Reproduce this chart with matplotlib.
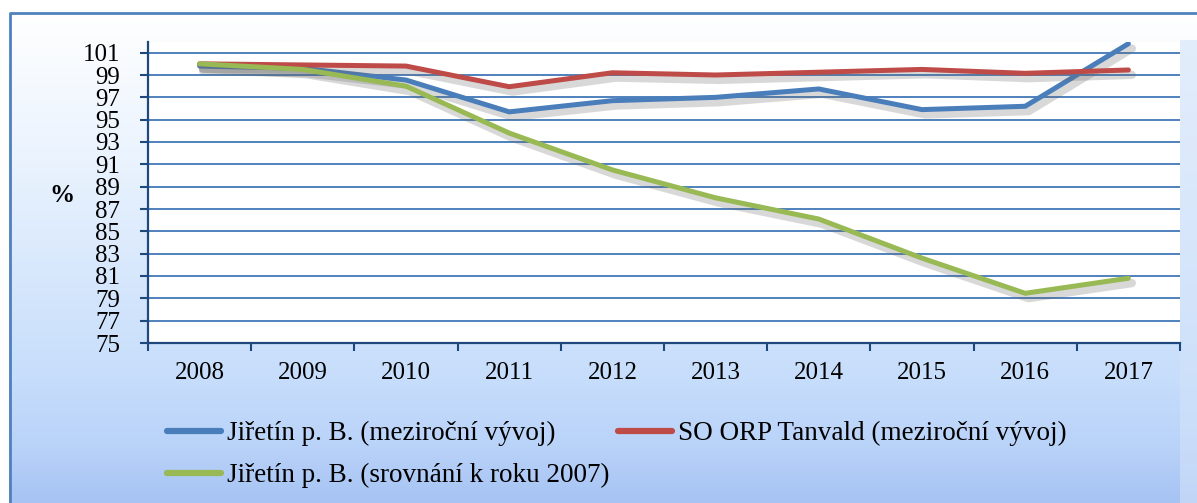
import numpy as np
import matplotlib
matplotlib.use("Agg")
import matplotlib.pyplot as plt
import matplotlib.patheffects as pe
from matplotlib.colors import LinearSegmentedColormap
from matplotlib.patches import Rectangle

years = ["2008", "2009", "2010", "2011", "2012", "2013", "2014", "2015", "2016", "2017"]
jiretin_yoy = [99.8, 99.6, 98.55, 95.7, 96.7, 97.0, 97.75, 95.9, 96.2, 101.8]
orp_tanvald_yoy = [100.0, 99.9, 99.8, 97.95, 99.2, 99.0, 99.25, 99.5, 99.15, 99.45]
jiretin_vs_2007 = [100.0, 99.5, 98.0, 93.8, 90.5, 88.0, 86.1, 82.6, 79.45, 80.8]

labels = ["Jiřetín p. B. (meziroční vývoj)",
          "SO ORP Tanvald (meziroční vývoj)",
          "Jiřetín p. B. (srovnání k roku 2007)"]
colors = ["#4A7EBB", "#BE4B48", "#98B954"]
yticks = list(range(75, 102, 2))

W, H = 1197, 503
fig = plt.figure(figsize=(W / 100, H / 100), dpi=100)

# background gradient
bg = fig.add_axes([0, 0, 1, 1], zorder=-10)
bg.set_axis_off()
bg.set_xlim(0, W)
bg.set_ylim(H, 0)
cmap = LinearSegmentedColormap.from_list(
    "bg", [(0, "#FFFFFF"), (0.3, "#EAF3FE"), (0.75, "#C6DDFB"), (0.88, "#BAD3F9"), (1, "#A6C3F3")])
grad = np.linspace(0, 1, 256).reshape(-1, 1)
bg.imshow(grad, cmap=cmap, aspect="auto", extent=[9, W, H, 12], zorder=0)
# right bevel
bg.add_patch(Rectangle((1180, 40), W - 1180, H - 40, facecolor="#D3E3FA", edgecolor="none", alpha=0.6, zorder=1))
bg.plot([9.5, 9.5, W], [H, 12.5, 12.5], color="#4F81BD", lw=2.0, zorder=2)

ax = fig.add_axes([148 / W, 1 - 343 / H, (1180 - 148) / W, (343 - 41.5) / H])
ax.set_facecolor("white")
x = np.arange(len(years))

shadow = [pe.SimpleLineShadow(offset=(2.5, -3.5), shadow_color="#666666", alpha=0.25, linewidth=6), pe.Normal()]
lines = []
for data, c, lab in zip([jiretin_yoy, orp_tanvald_yoy, jiretin_vs_2007], colors, labels):
    ln, = ax.plot(x, data, color=c, lw=3.6, label=lab, solid_capstyle="round",
                  solid_joinstyle="round", path_effects=shadow, zorder=3)
    lines.append(ln)

ax.set_xlim(-0.5, len(years) - 0.5)
ax.set_ylim(75, 102)
ax.set_yticks(yticks)
ax.set_yticklabels([str(t) for t in yticks])
ax.set_xticks(x)
ax.set_xticklabels(years)
ax.set_xticks(np.arange(-0.5, len(years), 1.0), minor=True)
ax.tick_params(axis="x", which="major", length=0, pad=14)
ax.tick_params(axis="x", which="minor", length=6, width=1.5, color="#1F497D", direction="out")
ax.tick_params(axis="y", length=6, width=1.5, color="#1F497D", direction="out", pad=14)
for lab in ax.get_xticklabels() + ax.get_yticklabels():
    lab.set_fontfamily("Liberation Serif")
    lab.set_fontsize(18)
    lab.set_color("black")
ax.grid(axis="y", color="#4F81BD", lw=1.4, zorder=1)
ax.set_axisbelow(True)
for s in ["top", "right"]:
    ax.spines[s].set_visible(False)
for s in ["left", "bottom"]:
    ax.spines[s].set_color("#1F497D")
    ax.spines[s].set_linewidth(1.6)

fig.text(62 / W, 1 - 195 / H, "%", fontfamily="Liberation Serif", fontsize=18,
         fontweight="bold", ha="center", va="center")

order = [0, 2, 1]
leg = fig.legend([lines[i] for i in order], [labels[i] for i in order], loc="upper left",
                 bbox_to_anchor=(167 / W, 1 - 421 / H),
                 ncol=2, frameon=False, prop={"family": "Liberation Serif", "size": 19.5},
                 handlelength=2.0, handletextpad=0.22, columnspacing=0.3, labelspacing=0.62,
                 borderaxespad=0, borderpad=0)
for line in leg.get_lines():
    line.set_linewidth(4.5)
    line.set_path_effects([])

fig.savefig("out.png", dpi=100)
